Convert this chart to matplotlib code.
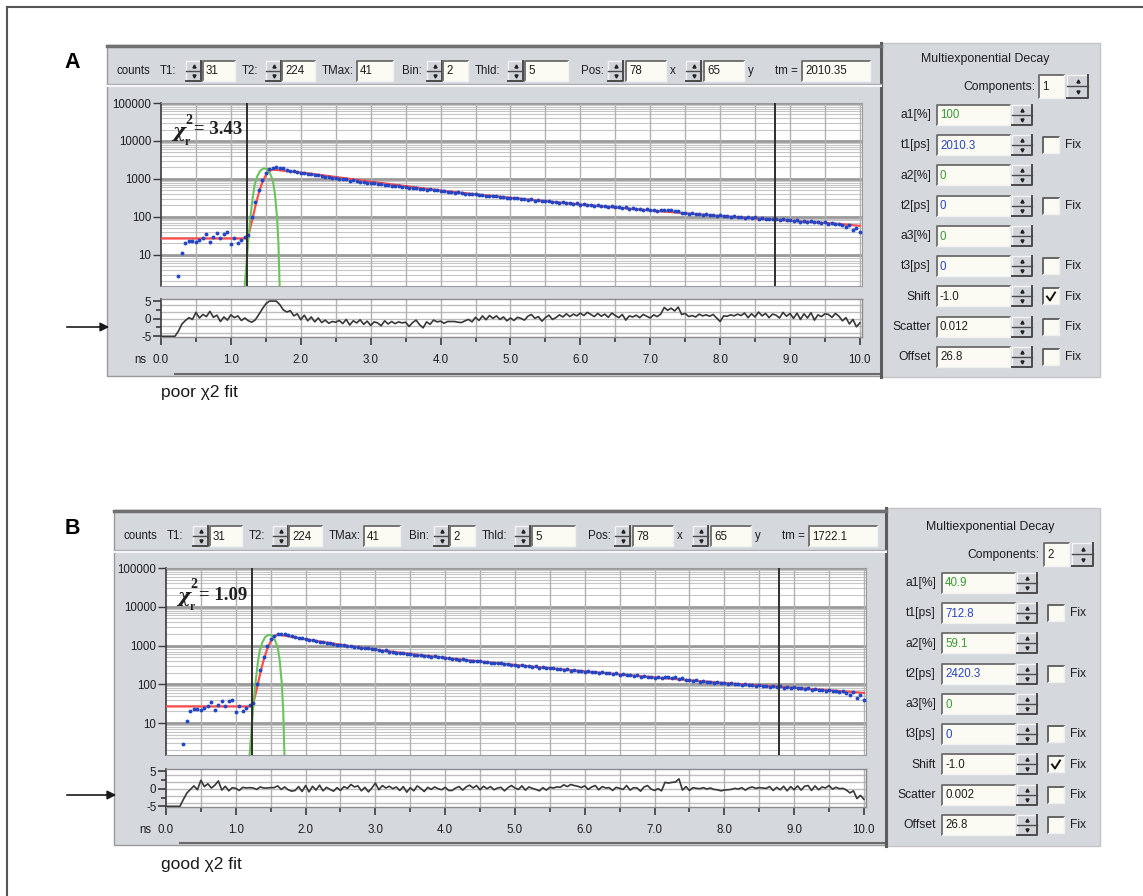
import numpy as np
import matplotlib.pyplot as plt
from matplotlib import font_manager
from matplotlib.patches import Rectangle
from matplotlib.ticker import FixedLocator, NullLocator

W, H = 1143, 896

# decay histogram - the same pixel is shown in both panels, only the fit differs
bin_ns = 0.05
t_first = 0.25
counts = [2.8, 11, 20, 23, 23, 22, 25, 28, 35, 22, 30, 38, 27, 36, 40, 19, 27, 21, 24, 30,
          33, 100, 240, 520, 950, 1450, 1800,
          1960, 2010, 1930, 1890, 1740, 1660, 1580, 1530, 1440, 1410, 1350, 1310, 1250, 1230,
          1160, 1150, 1120, 1060, 1030, 1020, 970, 965, 905, 915, 860, 845, 840, 790, 800, 760,
          735, 745, 700, 695, 660, 655, 645, 610, 620, 585, 570, 575, 540, 548, 520, 530, 495,
          505, 470, 480, 455, 462, 430, 440, 425, 405, 410, 392, 395, 375,
          378, 360, 362, 345, 350, 330, 338, 318, 322, 305, 312, 292, 296, 283, 290, 268, 275,
          262, 258, 262, 244, 250, 236, 243, 226, 233, 220, 226, 210, 218, 205, 210, 196, 203,
          190, 196, 182, 190, 176, 182, 170, 176, 165, 170, 157, 163, 154, 158, 148, 152, 143,
          150, 152, 148, 150, 140, 142, 126, 128, 122, 126, 118, 121, 114, 118, 111, 115, 107,
          111, 104, 107, 101, 104, 98, 101, 95, 98, 93, 96, 90, 93, 87, 90, 85, 88, 82, 85, 80,
          83, 78, 80, 75, 78, 73, 76, 71, 73, 69, 71, 66, 68, 63, 66, 60, 54, 62, 44, 52, 40]

# fitted curves (ns, counts)
fit_t = [0.0, 1.20, 1.25, 1.30, 1.35, 1.40, 1.45, 1.50, 1.55, 1.60, 2.1, 2.6, 3.1, 3.6,
         4.1, 4.6, 5.1, 5.6, 6.1, 6.6, 7.1, 7.6, 8.1, 8.6, 9.1, 9.6, 10.0]
fit_one = [26.8, 26.8, 32, 75, 190, 430, 820, 1250, 1600, 1760, 1400, 1060, 800, 610,
           470, 375, 305, 248, 204, 170, 142, 120, 102, 88, 77, 67, 58]
fit_two = [26.8, 26.8, 32, 75, 190, 430, 820, 1280, 1680, 1930, 1360, 985, 744, 579,
           461, 372, 304, 250, 208, 174, 146, 123, 105, 91, 79, 68, 60]

# instrument response (green)
irf_t = [1.19, 1.22, 1.25, 1.28, 1.31, 1.34, 1.38, 1.42, 1.47, 1.52, 1.56, 1.60, 1.63,
         1.66, 1.68, 1.70]
irf_counts = [1.0, 5, 25, 100, 300, 700, 1200, 1650, 1900, 1800, 1400, 900, 400, 100, 20, 1.0]

# weighted residuals, from 0 ns every bin
resid_one = [-5, -5, -5, -5, -5, -3.5, -1.5, -0.5, 0.3, -0.2, 1.8, 0.2, 1.2, 0.6, 2.1, 0.4,
             1.0, -0.8, 0.5, -0.4, 1.1, 0.3, 0.8, -0.5, 0.2, -0.6, -1.0, -0.3, 1.2, 2.8,
             4.2, 5, 5, 5, 4.0, 2.5, 1.9, 2.3, 0.8, 1.4, -0.3, 1.0, -0.6, 0.5, -0.9, 0.2,
             -1.1, -0.4, -1.3, -0.8, -1.0, -0.5, -1.4, -0.2, -1.8, -0.6, -1.2, -0.3, -1.6,
             -0.7, -1.9, -0.9, -1.2, -2.0, -0.6, -1.5, -0.8, -1.4, -0.9, -1.2, -1.0, -2.2,
             -1.1, -0.4, -1.7, -2.6, -0.9, -1.6, -0.4, -0.9, -0.7, -1.3, -0.8, -0.8, -0.8,
             -1.0, -1.1, -0.6, -0.2, -0.9, 0.4, -0.5, 0.8, -0.3, 0.9, 0.1, 0.8, -0.2, 0.5,
             -0.6, 0.2, -0.5, 0.4, 0.1, -0.4, 0.7, 1.2, 0.1, 0.6, -0.7, 0.3, 1.0, -0.2, 0.3,
             1.1, 0.5, 1.4, 0.6, 1.3, 0.8, 1.6, 0.9, 1.8, 1.2, 0.6, 1.5, 0.7, 1.3, 0.4, 1.6,
             0.9, 0.3, 1.2, -0.4, 0.8, 0.5, 1.0, 0.3, 1.2, 0.7, 0.2, 1.1, 0.6, 1.3, 3.2, 2.4,
             3.0, 2.2, 3.3, 1.2, 1.5, 0.6, 0.9, 0.5, 1.3, 0.8, 1.1, 0.7, 1.2, 0.2, -0.8, 0.8,
             0.7, 1.1, 0.8, 1.3, 0.9, 1.6, 0.3, 1.4, 0.5, 1.9, 0.8, 1.5, 0.3, 1.3, 1.0, 0.2,
             1.8, 0.7, 1.5, 0.1, 1.6, -0.2, 1.4, 0.2, 1.7, -0.4, 1.1, 0.6, 1.4, 1.2, 0.4,
             1.5, 0.7, -0.6, 0.3, -1.5, -0.2, -2.3, -1.2]
resid_two = [-5, -5, -5, -5, -5, -3.0, -1.2, -0.2, 0.8, -0.3, 2.4, 0.6, 1.4, 0.2, 1.0, 2.2,
             -0.4, 0.7, -0.6, 0.3, 0.1, -0.5, 0.4, 0.2, 0.3, 0.2, -0.2, 0.5, 0.2, 0.2, 0.3,
             0.3, 0.8, -0.2, 0.5, -0.3, -0.7, -0.5, 0.6, -0.8, 0.9, -0.9, 0.7, -0.4, 1.0,
             -0.6, 0.4, -0.2, -0.7, 0.3, -0.5, 0.6, 0.1, 1.2, 0.5, 0.8, -0.6, 0.4, -0.9, 0.2,
             1.6, -0.3, 0.9, 0.2, 0.7, 0.0, 0.5, -0.5, 0.6, -1.0, 0.3, -0.6, 0.8, 0.1, -0.8,
             0.4, -0.2, 0.5, 0.0, -0.3, 0.4, -0.5, -0.5, 0.2, 0.6, -0.4, 0.5, 1.0, 0.2, 0.9,
             -0.3, 0.7, 0.0, 0.6, -0.3, 0.2, 0.4, -0.6, 0.3, 0.9, 0.2, -0.2, 0.8, -0.4, 0.5,
             0.1, -0.2, -0.6, 0.3, -0.4, 0.4, 0.2, 0.5, 0.4, 1.1, 0.6, 1.2, 0.9, 0.7, 0.3,
             0.8, -0.2, 0.5, 0.9, -0.3, 0.6, 0.2, 0.3, -0.5, 0.4, 0.1, -0.2, 0.9, -0.4, 0.3,
             0.2, -0.7, 0.5, 0.9, -0.1, -0.5, 0.0, -0.6, 1.8, 1.6, 1.8, 1.9, 2.8, -0.4, 0.6,
             -0.5, 0.3, 0.1, 0.0, 0.3, -0.1, 0.2, -0.2, -0.3, -0.6, -0.4, -0.3, -0.2, 0.1,
             -0.1, 0.3, -0.4, 0.2, 0.5, 0.1, 0.3, 0.2, 0.1, 0.6, -0.5, 0.4, -0.3, 0.7, -0.6,
             0.6, -0.3, 0.8, -0.4, 0.7, 0.9, -0.5, 0.8, -0.3, 0.5, 0.2, 0.9, -0.1, 0.4, 0.0,
             0.1, -0.4, -1.2, -0.6, -2.8, -1.9, -3.0]

cursor_ns = [1.23, 8.78]
chi2_values = ['3.43', '1.09']
fit_notes = ['poor \u03c72 fit', 'good \u03c72 fit']
panel_letters = ['A', 'B']
toolbar_labels = ['counts', 'T1:', 'T2:', 'TMax:', 'Bin:', 'Thld:', 'Pos:', 'x', 'y', 'tm =']
toolbar_values = ['31', '224', '41', '2', '5', '78', '65']
tm_values = ['2010.35', '1722.1']
components = ['1', '2']
param_names = ['a1[%]', 't1[ps]', 'a2[%]', 't2[ps]', 'a3[%]', 't3[ps]', 'Shift', 'Scatter', 'Offset']
param_one = ['100', '2010.3', '0', '0', '0', '0', '-1.0', '0.012', '26.8']
param_two = ['40.9', '712.8', '59.1', '2420.3', '0', '0', '-1.0', '0.002', '26.8']
param_has_fix = [False, True, False, True, False, True, True, True, True]
param_fixed = [False, False, False, False, False, False, True, False, False]

# fonts
names = {f.name for f in font_manager.fontManager.ttflist}
UI = 'Liberation Sans Narrow' if 'Liberation Sans Narrow' in names else 'Liberation Sans'
UI_SIZE = 9.6 if UI.endswith('Narrow') else 8.3

GRAY = '#d5d8dd'
TXT = '#1e1e1e'
GREEN = '#3c9a34'
BLUE = '#2a44c4'

fig = plt.figure(figsize=(W / 100, H / 100), dpi=100)
fig.patch.set_facecolor('white')

bg = fig.add_axes([0, 0, 1, 1], zorder=0)
bg.set_xlim(0, W)
bg.set_ylim(H, 0)
bg.axis('off')


def px_axes(x0, y0, x1, y1):
    return fig.add_axes([x0 / W, 1 - y1 / H, (x1 - x0) / W, (y1 - y0) / H], zorder=2)


def ui_text(x, y, s, ha='left', color=TXT, size=None):
    bg.text(x, y, s, ha=ha, va='center', color=color, family=UI,
            fontsize=size or UI_SIZE, zorder=5)


def textbox(x0, y0, x1, y1, s, color=TXT):
    bg.add_patch(Rectangle((x0, y0), x1 - x0, y1 - y0, fc='#fbfbf4', ec='none', zorder=3))
    bg.plot([x0, x0, x1], [y1, y0, y0], color='#6c6c6c', lw=1.3, zorder=4)
    bg.plot([x0, x1, x1], [y1, y1, y0], color='#f2f2f2', lw=1.0, zorder=4)
    ui_text(x0 + 3, (y0 + y1) / 2 + 0.5, s, color=color)


def spinner(x0, y0, x1, y1):
    ym = (y0 + y1) / 2
    bg.add_patch(Rectangle((x0, y0), x1 - x0, y1 - y0, fc='#d0d3d8', ec='none', zorder=3))
    bg.plot([x0, x0, x1], [y1, y0, y0], color='#f4f4f4', lw=1.0, zorder=4)
    bg.plot([x0, x1, x1], [y1, y1, y0], color='#4a4a4a', lw=1.4, zorder=4)
    bg.plot([x0, x1], [ym, ym], color='#4a4a4a', lw=1.0, zorder=4)
    xc = (x0 + x1) / 2
    bg.plot([xc], [(y0 + ym) / 2], marker='^', ms=2.2, color='#222222', zorder=5)
    bg.plot([xc], [(ym + y1) / 2], marker='v', ms=2.2, color='#222222', zorder=5)


def checkbox(x0, y0, x1, y1, checked):
    bg.add_patch(Rectangle((x0, y0), x1 - x0, y1 - y0, fc='#fbfbf4', ec='none', zorder=3))
    bg.plot([x0, x0, x1], [y1, y0, y0], color='#5a5a5a', lw=1.3, zorder=4)
    bg.plot([x0, x1, x1], [y1, y1, y0], color='#f0f0f0', lw=1.0, zorder=4)
    if checked:
        bg.plot([x0 + 4, x0 + 7, x1 - 4], [(y0 + y1) / 2, y1 - 4, y0 + 4],
                color='#111111', lw=1.4, zorder=5)


# outer frame (top and left edges only)
bg.plot([7, W], [7, 7], color='#555555', lw=1.5)
bg.plot([7, 7], [7, H], color='#555555', lw=1.5)

panels = [
    dict(left=107, top=45, bottom=376, divider=881, right=1100, tool_bot=85, tool_y=71,
         tool_dx=0, px=(161, 862), main=(103, 286), res=(299, 337), rdx=0, rdy=0,
         arrow_y=327, letter_y=63, note_y=393, chi=(172, 130)),
    dict(left=114, top=510, bottom=845, divider=886, right=1100, tool_bot=551, tool_y=536,
         tool_dx=7, px=(166, 866), main=(568, 755), res=(769, 807), rdx=5, rdy=468,
         arrow_y=795, letter_y=529, note_y=864, chi=(177, 595)),
]

fits = [fit_one, fit_two]
resids = [resid_one, resid_two]
params = [param_one, param_two]

t_data = t_first + bin_ns * np.arange(len(counts))
grid_ns = np.arange(0.5, 10.01, 0.5)

for i, p in enumerate(panels):
    left, top, bottom, div = p['left'], p['top'], p['bottom'], p['divider']
    x0, x1 = p['px']

    # gray panels
    bg.add_patch(Rectangle((left, top), div - left, bottom - top, fc=GRAY, ec='#9a9a9a', lw=1))
    bg.add_patch(Rectangle((div + 1, top - 2), p['right'] - div - 1, bottom - top + 3,
                           fc=GRAY, ec='#c4c4c4', lw=1))
    bg.plot([div, div], [top - 2, bottom + 1], color='#5c5c5c', lw=2.2)
    bg.plot([left, div], [top + 1, top + 1], color='#707070', lw=2.5)
    bg.plot([left, div], [p['tool_bot'] - 1, p['tool_bot'] - 1], color='#a9abb0', lw=1)
    bg.plot([left, div], [p['tool_bot'] + 1, p['tool_bot'] + 1], color='#f6f6f6', lw=1.5)
    bg.plot([x0 + 14, div - 2], [bottom - 2, bottom - 2], color='#6a6a6a', lw=1.5)

    # toolbar
    ty, dx = p['tool_y'], p['tool_dx']
    for s, x in zip(toolbar_labels, [133, 168, 250, 338, 412, 488, 592, 673, 751, 786]):
        ui_text(x + dx, ty, s, ha='center')
    for x in [186, 266, 427, 508, 608, 686]:
        spinner(x + dx, ty - 10, x + dx + 15, ty + 10)
    boxes = [(203, 235), (282, 315), (357, 393), (443, 468), (525, 568), (626, 666),
             (704, 744), (802, 870)]
    for (b0, b1), v in zip(boxes, toolbar_values + [tm_values[i]]):
        textbox(b0 + dx, ty - 10, b1 + dx, ty + 10, v)

    # right-hand parameter panel
    rdx, rdy = p['rdx'], p['rdy']
    ui_text(985 + rdx, 59 + rdy, 'Multiexponential Decay', ha='center', size=UI_SIZE + 0.6)
    ui_text(1035 + rdx, 87 + rdy, 'Components:', ha='right', size=UI_SIZE + 0.4)
    textbox(1039 + rdx, 75 + rdy, 1064 + rdx, 98 + rdy, components[i])
    spinner(1067 + rdx, 75 + rdy, 1088 + rdx, 98 + rdy)
    for k, name in enumerate(param_names):
        y = 115 + 30.25 * k + rdy
        color = GREEN if name[0] == 'a' else BLUE if name[0] == 't' else TXT
        ui_text(931 + rdx, y, name, ha='right', size=UI_SIZE + 0.4)
        textbox(937 + rdx, y - 10, 1010 + rdx, y + 10, params[i][k], color)
        spinner(1012 + rdx, y - 10, 1032 + rdx, y + 10)
        if param_has_fix[k]:
            checkbox(1043 + rdx, y - 8, 1059 + rdx, y + 8, param_fixed[k])
            ui_text(1065 + rdx, y, 'Fix', size=UI_SIZE + 0.4)

    # decay plot
    ax = px_axes(x0, p['main'][0], x1, p['main'][1])
    ax.set_yscale('log')
    ax.set_xlim(0, 10.03)
    ax.set_ylim(1.5, 1e5)
    ax.set_facecolor('white')
    for k in range(0, 5):
        for m in range(2, 10):
            ax.axhline(m * 10 ** k, color='#c6c6c6', lw=0.8, zorder=1)
    for k in range(1, 6):
        ax.axhline(10 ** k, color='#9a9a9a', lw=2.0, zorder=1)
    for g in grid_ns:
        ax.axvline(g, color='#b2b2b2', lw=1.0, zorder=1)
    for c in cursor_ns:
        ax.axvline(c, color='#2e2e2e', lw=1.4, zorder=5)
    ax.plot(fit_t, fits[i], color='#ff4d4d', lw=1.6, zorder=3)
    ax.plot(irf_t, irf_counts, color='#6cc35e', lw=1.5, zorder=3)
    ax.plot(t_data, counts, 'o', ms=2.8, color='#2246c6', mec='none', zorder=4)
    ax.yaxis.set_major_locator(FixedLocator([10, 100, 1000, 10000, 100000]))
    ax.yaxis.set_minor_locator(NullLocator())
    ax.set_yticklabels(['10', '100', '1000', '10000', '100000'])
    ax.set_xticks([])
    ax.tick_params(axis='y', direction='out', length=6, width=1, color='#3a3a3a', pad=1,
                   labelsize=UI_SIZE, labelcolor=TXT, labelfontfamily=UI)
    for side, sp in ax.spines.items():
        sp.set_color('#3a3a3a' if side == 'left' else '#9a9a9a')
        sp.set_linewidth(1.2 if side == 'left' else 0.8)

    # residuals
    rx = px_axes(x0, p['res'][0], x1, p['res'][1])
    rx.set_xlim(0, 10.03)
    rx.set_ylim(-5.2, 5.6)
    rx.set_facecolor('white')
    for g in (-4, -2, 0, 2, 4):
        rx.axhline(g, color='#bdbdbd', lw=1.0, zorder=1)
    for g in grid_ns:
        rx.axvline(g, color='#b2b2b2', lw=1.0, zorder=1)
    t_res = bin_ns * np.arange(len(resids[i]))
    rx.plot(t_res, resids[i], color='#383838', lw=1.2, zorder=3)
    rx.set_yticks([-5, 0, 5])
    rx.set_yticklabels(['-5', '0', '5'])
    rx.set_yticks([-2.5, 2.5], minor=True)
    rx.set_xticks(np.arange(0, 11))
    rx.set_xticklabels([f'{v:.1f}' for v in range(0, 11)])
    rx.set_xticks(grid_ns[::2], minor=True)
    rx.tick_params(which='major', direction='out', length=6, width=1.2, color='#3a3a3a',
                   labelsize=UI_SIZE, labelcolor=TXT, labelfontfamily=UI)
    rx.tick_params(which='minor', direction='out', length=3.5, width=1.2, color='#3a3a3a')
    rx.tick_params(axis='x', pad=6)
    rx.tick_params(axis='y', pad=1)
    for side, sp in rx.spines.items():
        sp.set_color('#3a3a3a' if side == 'left' else '#8c8c8c')
        sp.set_linewidth(1.2 if side == 'left' else 1.0)
    ui_text(x0 - 21, p['res'][1] + 23, 'ns', ha='center')

ov = fig.add_axes([0, 0, 1, 1], zorder=6)
ov.set_xlim(0, W)
ov.set_ylim(H, 0)
ov.patch.set_alpha(0)
ov.axis('off')

for i, p in enumerate(panels):
    cx, cy = p['chi']
    ov.text(cx, cy + 2, '\u03c7', family='DejaVu Serif', fontsize=14, weight='bold',
            style='italic', ha='left', va='center', color='#202020')
    ov.text(cx + 13, cy - 10, '2', family='Liberation Serif', fontsize=10, weight='bold',
            ha='left', va='center', color='#202020')
    ov.text(cx + 13, cy + 12, 'r', family='Liberation Serif', fontsize=8.5, weight='bold',
            ha='left', va='center', color='#202020')
    ov.text(cx + 22, cy, '= ' + chi2_values[i], family='Liberation Serif', fontsize=13.5,
            weight='bold', ha='left', va='center', color='#202020')
    ov.text(72, p['letter_y'], panel_letters[i], family='Liberation Sans', fontsize=15.5,
            weight='bold', ha='center', va='center', color='black')
    ov.text(161, p['note_y'], fit_notes[i], family='Liberation Sans', fontsize=12.5,
            ha='left', va='center', color='#1a1a1a')
    ov.annotate('', xy=(p['left'] + 5, p['arrow_y']), xytext=(64, p['arrow_y']),
                arrowprops=dict(arrowstyle='-|>', color='#1a1a1a', lw=1.2, mutation_scale=13))

fig.savefig('out.png', dpi=100)
